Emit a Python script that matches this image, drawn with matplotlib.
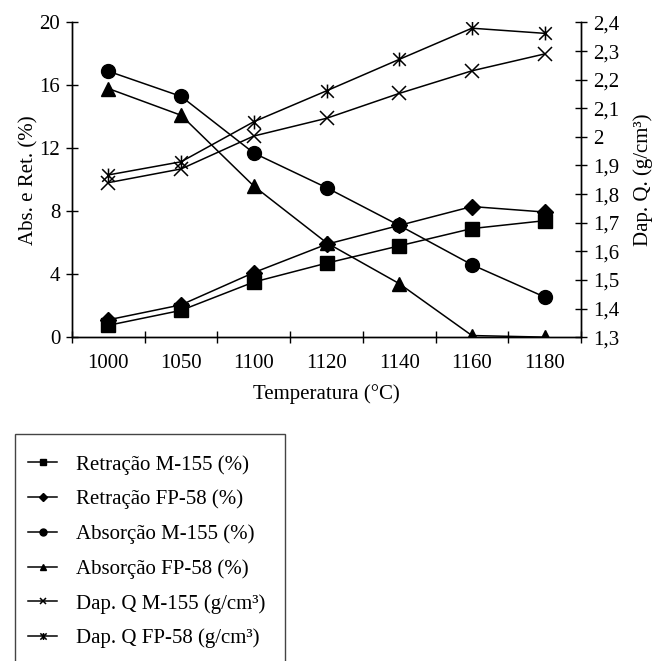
import matplotlib.pyplot as plt
from matplotlib.patches import Rectangle
from matplotlib.path import Path
from matplotlib.ticker import FuncFormatter

plt.rcParams['font.family'] = ['Liberation Serif', 'DejaVu Serif']

temps = ['1000', '1050', '1100', '1120', '1140', '1160', '1180']

retr_m155 = [0.75, 1.7, 3.5, 4.7, 5.8, 6.9, 7.4]
retr_fp58 = [1.1, 2.05, 4.1, 5.9, 7.1, 8.3, 7.95]
abs_m155 = [16.9, 15.3, 11.7, 9.5, 7.1, 4.6, 2.55]
abs_fp58 = [15.8, 14.1, 9.6, 6.0, 3.4, 0.1, 0.0]
dap_m155 = [1.84, 1.888, 2.003, 2.065, 2.152, 2.231, 2.29]
dap_fp58 = [1.867, 1.913, 2.053, 2.161, 2.271, 2.38, 2.362]

# asterisk: an x with a vertical bar through it
aster = Path([(-1, -1), (1, 1), (-1, 1), (1, -1), (0, -1.1), (0, 1.1)],
             [Path.MOVETO, Path.LINETO, Path.MOVETO, Path.LINETO, Path.MOVETO, Path.LINETO])

fig = plt.figure(figsize=(6.55, 6.61), dpi=100)
ax = fig.add_axes([0.110, 0.490, 0.777, 0.476])
ax2 = ax.twinx()

x = list(range(len(temps)))
kw = dict(color='black', lw=1.1, markersize=10)
h1, = ax.plot(x, retr_m155, marker='s', label='Retração M-155 (%)', **kw)
h2, = ax.plot(x, retr_fp58, marker='D', label='Retração FP-58 (%)', color='black', lw=1.1, markersize=8)
h3, = ax.plot(x, abs_m155, marker='o', label='Absorção M-155 (%)', **kw)
h4, = ax.plot(x, abs_fp58, marker='^', label='Absorção FP-58 (%)', **kw)
h5, = ax2.plot(x, dap_m155, marker='x', label='Dap. Q M-155 (g/cm³)', color='black', lw=1.1,
               markersize=10, markeredgewidth=1.1)
h6, = ax2.plot(x, dap_fp58, marker=aster, label='Dap. Q FP-58 (g/cm³)', color='black', lw=1.1,
               markersize=10, markeredgewidth=1.1)

ax.set_xlim(-0.5, 6.5)
ax.set_ylim(0, 20)
ax2.set_ylim(1.3, 2.4)
ax.set_yticks([0, 4, 8, 12, 16, 20])
ax2.set_yticks([1.3, 1.4, 1.5, 1.6, 1.7, 1.8, 1.9, 2.0, 2.1, 2.2, 2.3, 2.4])
ax2.yaxis.set_major_formatter(FuncFormatter(lambda v, p: ('%g' % round(v, 1)).replace('.', ',')))

ax.set_xticks(x)
ax.set_xticklabels(temps)
ax.set_xticks([i - 0.5 for i in range(8)], minor=True)
ax.tick_params(axis='x', which='major', length=0, pad=12, labelsize=15)
ax.tick_params(axis='x', which='minor', direction='inout', length=9, width=1)
ax.tick_params(axis='y', direction='inout', length=9, width=1, labelsize=15, pad=4)
ax2.tick_params(axis='y', direction='inout', length=9, width=1, labelsize=15, pad=4)

for a in (ax, ax2):
    a.spines['top'].set_visible(False)
    for s in ('left', 'right', 'bottom'):
        a.spines[s].set_linewidth(1)

ax.set_xlabel('Temperatura (°C)', fontsize=15, labelpad=8)
ax.set_ylabel('Abs. e Ret. (%)', fontsize=15, labelpad=1)
ax2.set_ylabel('Dap. Q. (g/cm³)', fontsize=15, labelpad=10)

# legend box runs off the bottom of the figure, as in the original
fig.patches.append(Rectangle((15 / 655, -0.05), 270 / 655, 0.05 + 1 - 434 / 661,
                             transform=fig.transFigure, fill=False, edgecolor='#444444', lw=1))
leg = fig.legend(handles=[h1, h2, h3, h4, h5, h6], loc='upper left',
                 bbox_to_anchor=(28 / 655, 1 - 455 / 661), fontsize=15,
                 frameon=False, borderpad=0,
                 handlelength=1.4, handletextpad=0.9, labelspacing=0.72, markerscale=0.5,
                 borderaxespad=0)

fig.savefig('out.png', dpi=100)
